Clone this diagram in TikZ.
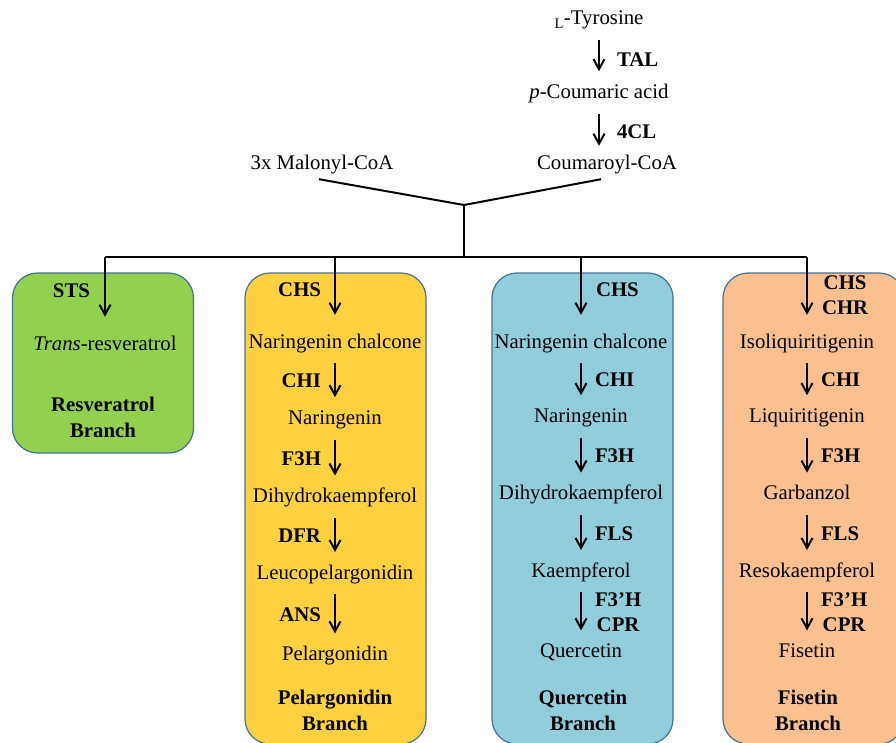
\documentclass[tikz,border=0pt]{standalone}
\usepackage{fontspec}
\setmainfont{Liberation Serif}
\usetikzlibrary{positioning, arrows.meta, calc, backgrounds}
\definecolor{resgreen}{RGB}{146,208,80}
\definecolor{pelyellow}{RGB}{255,208,64}
\definecolor{querblue}{RGB}{146,205,220}
\definecolor{fisorange}{RGB}{250,192,144}
\definecolor{boxline}{RGB}{65,113,156}

\begin{document}
\begin{tikzpicture}[
    x=1pt, y=-1pt,
    font=\fontsize{20.8}{26}\selectfont,
    cmpd/.style={inner sep=0pt, text height=14pt, text depth=4pt},
    enz/.style={inner sep=0pt, font=\fontsize{20.8}{25}\selectfont\bfseries, align=center},
    brtitle/.style={inner sep=0pt, font=\fontsize{20.8}{26}\selectfont\bfseries, align=center},
    branchbox/.style={rectangle, rounded corners=25pt, draw=boxline, line width=1.2pt, minimum width=181pt},
    link/.style={line width=2pt},
    arrow/.style={line width=2pt, -{Straight Barb[length=10pt,width=11pt]}, shorten <=11pt, shorten >=13pt}
]
\useasboundingbox (0,0) rectangle (896,743);
\clip (0,0) rectangle (896,743);

% Precursors
\node[cmpd] (tyr) at (599,20) {\textsubscript{L}-Tyrosine};
\node[cmpd, below=55pt of tyr] (pcoum) {\textit{p}-Coumaric acid};
\node[cmpd] (coum) at (607,165) {Coumaroyl-CoA};
\node[cmpd] (malo) at (322,165) {3x Malonyl-CoA};

% Resveratrol branch
\node[cmpd] (trans) at (105,345) {\textit{Trans}-resveratrol};
\node[brtitle] (restitle) at (103,417) {Resveratrol\\Branch};

% Pelargonidin branch
\node[cmpd] (pnarch) at (335,343) {Naringenin chalcone};
\node[cmpd, below=58pt of pnarch] (pnar) {Naringenin};
\node[cmpd, below=60pt of pnar] (pdhk) {Dihydrokaempferol};
\node[cmpd, below=58pt of pdhk] (pleuco) {Leucopelargonidin};
\node[cmpd, below=63pt of pleuco] (pelarg) {Pelargonidin};
\node[brtitle] (peltitle) at (335,710) {Pelargonidin\\Branch};

% Quercetin branch
\node[cmpd] (qnarch) at (581,343) {Naringenin chalcone};
\node[cmpd, below=56pt of qnarch] (qnar) {Naringenin};
\node[cmpd, below=59pt of qnar] (qdhk) {Dihydrokaempferol};
\node[cmpd, below=59pt of qdhk] (qkaem) {Kaempferol};
\node[cmpd, below=62pt of qkaem] (querc) {Quercetin};
\node[brtitle] (quertitle) at (583,710) {Quercetin\\Branch};

% Fisetin branch
\node[cmpd] (isoliq) at (807,343) {Isoliquiritigenin};
\node[cmpd, below=56pt of isoliq] (liq) {Liquiritigenin};
\node[cmpd, below=59pt of liq] (garb) {Garbanzol};
\node[cmpd, below=59pt of garb] (resok) {Resokaempferol};
\node[cmpd, below=62pt of resok] (fiset) {Fisetin};
\node[brtitle] (fistitle) at (808,710) {Fisetin\\Branch};

% Junction and bus
\coordinate (join) at (464,205);
\coordinate (bus) at (464,257);
\coordinate (busR) at (trans |- bus);
\coordinate (busP) at (pnarch |- bus);
\coordinate (busQ) at (qnarch |- bus);
\coordinate (busF) at (isoliq |- bus);

\draw[link] ($(malo.south)+(-3,5)$) -- (join) -- ($(coum.south)+(-6,5)$);
\draw[link] (join) -- (bus);
\draw[link] (busR) -- (busF);

% Top arrows
\draw[arrow] (tyr) -- node[enz, right=17pt, pos=0.55] {TAL} (pcoum);
\draw[arrow, shorten >=10pt] (pcoum) -- node[enz, right=17pt, pos=0.55] {4CL} (pcoum |- coum.north);

% Branch entry arrows
\draw[arrow, shorten <=0pt, shorten >=19pt] (busR) -- node[enz, left=14pt, pos=0.43] {STS} (trans.north);
\draw[arrow, shorten <=0pt, shorten >=19pt] (busP) -- node[enz, left=13pt, pos=0.43] {CHS} (pnarch.north);
\draw[arrow, shorten <=0pt, shorten >=19pt] (busQ) -- node[enz, right=14pt, pos=0.43] {CHS} (qnarch.north);
\draw[arrow, shorten <=0pt, shorten >=19pt] (busF) -- node[enz, right=14pt, pos=0.5] {CHS\\CHR} (isoliq.north);

% Pelargonidin arrows
\draw[arrow] (pnarch) -- node[enz, left=13pt] {CHI} (pnar);
\draw[arrow] (pnar) -- node[enz, left=13pt] {F3H} (pdhk);
\draw[arrow] (pdhk) -- node[enz, left=13pt] {DFR} (pleuco);
\draw[arrow] (pleuco) -- node[enz, left=13pt] {ANS} (pelarg);

% Quercetin arrows
\draw[arrow] (qnarch) -- node[enz, right=13pt] {CHI} (qnar);
\draw[arrow] (qnar) -- node[enz, right=13pt] {F3H} (qdhk);
\draw[arrow] (qdhk) -- node[enz, right=13pt] {FLS} (qkaem);
\draw[arrow] (qkaem) -- node[enz, right=13pt] {F3’H\\CPR} (querc);

% Fisetin arrows
\draw[arrow] (isoliq) -- node[enz, right=13pt] {CHI} (liq);
\draw[arrow] (liq) -- node[enz, right=13pt] {F3H} (garb);
\draw[arrow] (garb) -- node[enz, right=13pt] {FLS} (resok);
\draw[arrow] (resok) -- node[enz, right=13pt] {F3’H\\CPR} (fiset);

% Branch boxes
\begin{pgfonlayer}{background}
\node[branchbox, fill=resgreen, minimum height=180pt] (resbox) at (103,363) {};
\node[branchbox, fill=pelyellow, minimum height=471pt] (pelbox) at (335.5,508.5) {};
\node[branchbox, fill=querblue, minimum height=471pt] (querbox) at (582.5,508.5) {};
\node[branchbox, fill=fisorange, minimum height=471pt] (fisbox) at (813.5,508.5) {};
\end{pgfonlayer}

\end{tikzpicture}
\end{document}
